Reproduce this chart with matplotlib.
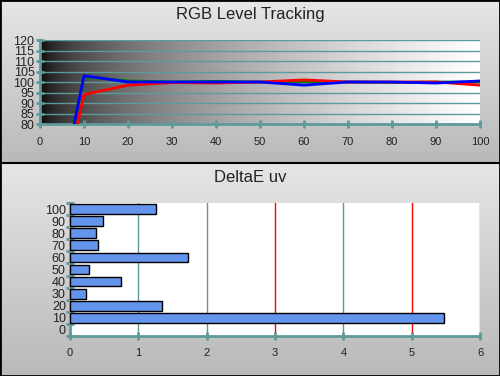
import numpy as np
import matplotlib.pyplot as plt

# RGB level tracking (percent of target), stimulus levels 0..100
levels = [0, 10, 20, 30, 40, 50, 60, 70, 80, 90, 100]
red = [0, 94, 98.5, 99.7, 99.5, 100, 101, 100, 100, 100, 98.5]
green = [0, 102.5, 100.5, 100, 100.3, 100, 100, 100, 99.8, 100, 100]
blue = [0, 103, 100, 100, 100, 100, 98.5, 100, 100, 99.5, 100.5]

# DeltaE uv per level
de_levels = [10, 20, 30, 40, 50, 60, 70, 80, 90, 100]
de_values = [5.48, 1.34, 0.24, 0.74, 0.28, 1.72, 0.415, 0.375, 0.49, 1.26]

teal = '#5f9a9a'
plt.rcParams['font.family'] = ['Liberation Sans', 'DejaVu Sans']

fig = plt.figure(figsize=(5, 3.76), dpi=100)

# panel backgrounds (vertical gray gradient, light on top)
grad = np.linspace(0, 1, 256).reshape(-1, 1)
gcmap = plt.matplotlib.colors.LinearSegmentedColormap.from_list('g', ['#e6e6e6', '#b9b9b9'])
for b, h in [(0.5665, 0.4335), (0.0, 0.5665)]:
    bg = fig.add_axes([0, b, 1, h], zorder=-10)
    bg.imshow(grad, cmap=gcmap, aspect='auto', extent=[0, 1, 0, 1])
    bg.set_xlim(0, 1)
    bg.set_ylim(0, 1)
    bg.axis('off')

# black frame and separator
frame = fig.add_axes([0, 0, 1, 1], zorder=-5)
frame.set_xlim(0, 1)
frame.set_ylim(0, 1)
frame.axis('off')
frame.plot([0, 1, 1, 0, 0], [0, 0, 1, 1, 0], color='black', lw=2, clip_on=False)
frame.axhline(0.5665, color='black', lw=1.5)

fig.text(0.5, 1 - 14 / 376, 'RGB Level Tracking', ha='center', va='center', fontsize=12, color='#222222')
fig.text(0.5, 1 - 178 / 376, 'DeltaE uv', ha='center', va='center', fontsize=12, color='#222222')

# top chart
ax1 = fig.add_axes([0.08, 0.6702, 0.88, 0.2234])
xg = np.linspace(0, 1, 256).reshape(1, -1) ** 0.5
ax1.imshow(xg, cmap='gray', aspect='auto', extent=[0, 100, 80, 120], zorder=0, vmin=0, vmax=1)
for v in range(85, 121, 5):
    ax1.axhline(v, color=teal, lw=1, zorder=1)
ax1.plot(levels, green, color='#008000', lw=2, zorder=3)
ax1.plot(levels, red, color='#ff0000', lw=2, zorder=4)
ax1.plot(levels, blue, color='#0000ff', lw=2, zorder=5)
ax1.set_xlim(0, 100)
ax1.set_ylim(80, 120)
ax1.set_xticks(range(0, 101, 10))
ax1.set_yticks(range(80, 121, 5))

# bottom chart
ax2 = fig.add_axes([0.14, 0.1064, 0.82, 0.3537])
ax2.set_facecolor('white')
for v in [1, 2, 4, 6]:
    ax2.axvline(v, color=teal, lw=1, zorder=1)
for v in [3, 5]:
    ax2.axvline(v, color='#ff0000', lw=1, zorder=1)
ax2.barh(de_levels, de_values, height=8, color='#6495ed', edgecolor='black', lw=1, zorder=3)
ax2.set_xlim(0, 6)
ax2.set_ylim(-5, 105)
ax2.set_yticks(range(0, 101, 10))
ax2.set_yticks(np.arange(-5, 106, 10), minor=True)
ax2.set_xticks(range(0, 7))

for ax in (ax1, ax2):
    for s in ('top', 'right'):
        ax.spines[s].set_visible(False)
    for s in ('left', 'bottom'):
        ax.spines[s].set_color(teal)
        ax.spines[s].set_linewidth(2)
    ax.tick_params(axis='both', direction='inout', color=teal, width=2, length=6,
                   labelsize=8, labelcolor='#222222')
    ax.tick_params(axis='x', pad=6)

ax1.tick_params(axis='y', pad=1, labelsize=9)
ax2.tick_params(axis='y', which='major', length=0, labelsize=9, pad=3)
ax2.tick_params(axis='y', which='minor', direction='inout', color=teal, width=2, length=6)

fig.savefig('out.png', dpi=100)
